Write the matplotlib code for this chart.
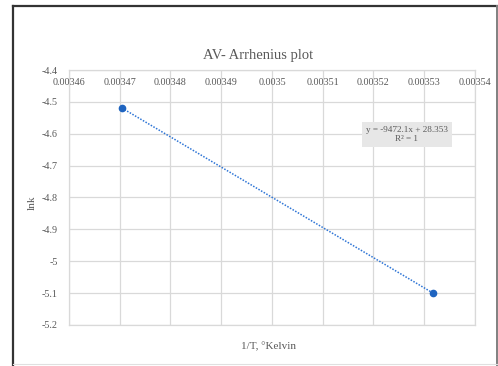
import numpy as np
import matplotlib
matplotlib.use('Agg')
from matplotlib import pyplot as plt
from matplotlib.lines import Line2D

# temperatures [K] and measured ln k
temp_K = [288.15, 283.15]
lnk = [-4.519, -5.0996]

# linear trendline (Excel): lnk = slope * (1/T) + intercept
slope = -9472.1
intercept = 28.353

x_ticks = [0.00346, 0.00347, 0.00348, 0.00349, 0.0035, 0.00351, 0.00352, 0.00353, 0.00354]
x_tick_labels = ['0.00346', '0.00347', '0.00348', '0.00349', '0.0035',
                 '0.00351', '0.00352', '0.00353', '0.00354']
y_ticks = [-4.4, -4.5, -4.6, -4.7, -4.8, -4.9, -5.0, -5.1, -5.2]
y_tick_labels = ['-4.4', '-4.5', '-4.6', '-4.7', '-4.8', '-4.9', '-5', '-5.1', '-5.2']

inv_T = 1. / np.array(temp_K)

plt.rcParams['font.family'] = ['Liberation Serif', 'DejaVu Serif']
txt_color = '#595959'
grid_color = '#d9d9d9'

fig = plt.figure(figsize=(4.98, 3.66), dpi=100)
W, H = 498., 366.

def fline(x0, y0, x1, y1, color, lw):
    fig.lines.append(Line2D([x0/W, x1/W], [1 - y0/H, 1 - y1/H],
                            transform=fig.transFigure, color=color, linewidth=lw))

# outer frame
fline(13, 6, 497, 6, '#333333', 1.6)
fline(13, 6, 13, 366, '#333333', 1.6)
fline(496.5, 6, 496.5, 366, '#808080', 1.4)
fline(13, 364, 497, 364, '#e0e0e0', 0.8)

ax = fig.add_axes([69/W, 1 - 325/H, (475-69)/W, (325-70)/H])
ax.set_xlim(0.00346, 0.00354)
ax.set_ylim(-5.2, -4.4)

ax.set_xticks(x_ticks)
ax.set_yticks(y_ticks)
ax.set_yticklabels(y_tick_labels)
ax.set_xticklabels([])
ax.grid(True, color=grid_color, linewidth=0.9)
ax.set_axisbelow(True)
for s in ax.spines.values():
    s.set_color(grid_color)
    s.set_linewidth(0.9)
ax.tick_params(length=0, labelsize=7.3, colors=txt_color, pad=8)

# x tick labels sit just under the top of the plot area
for xv, lab in zip(x_ticks, x_tick_labels):
    ax.text(xv, -4.44, lab, ha='center', va='center', fontsize=7.3, color=txt_color)

xf = np.array([inv_T.min(), inv_T.max()])
ax.plot(xf, slope*xf + intercept, linestyle=(0, (1, 1)), color='#2e75d6', linewidth=1.1)
ax.plot(inv_T, lnk, 'o', color='#1f64c0', markersize=4.5)

ax.text(0.0035266, -4.602, f'y = {slope:.1f}x + {intercept:.3f}\nR² = 1',
        ha='center', va='center', fontsize=6.6, color=txt_color, linespacing=1.15,
        bbox=dict(boxstyle='square,pad=0.45', facecolor='#e7e7e7', edgecolor='none'))

fig.text(258/W, 1 - 56/H, 'AV- Arrhenius plot', ha='center', va='center',
         fontsize=10.5, color=txt_color)
fig.text(32/W, 1 - 203/H, 'lnk', ha='center', va='center', rotation=90,
         fontsize=8, color=txt_color)
fig.text(268/W, 1 - 347/H, '1/T, °Kelvin', ha='center', va='center',
         fontsize=8, color=txt_color)

fig.savefig('out.png', dpi=100)
